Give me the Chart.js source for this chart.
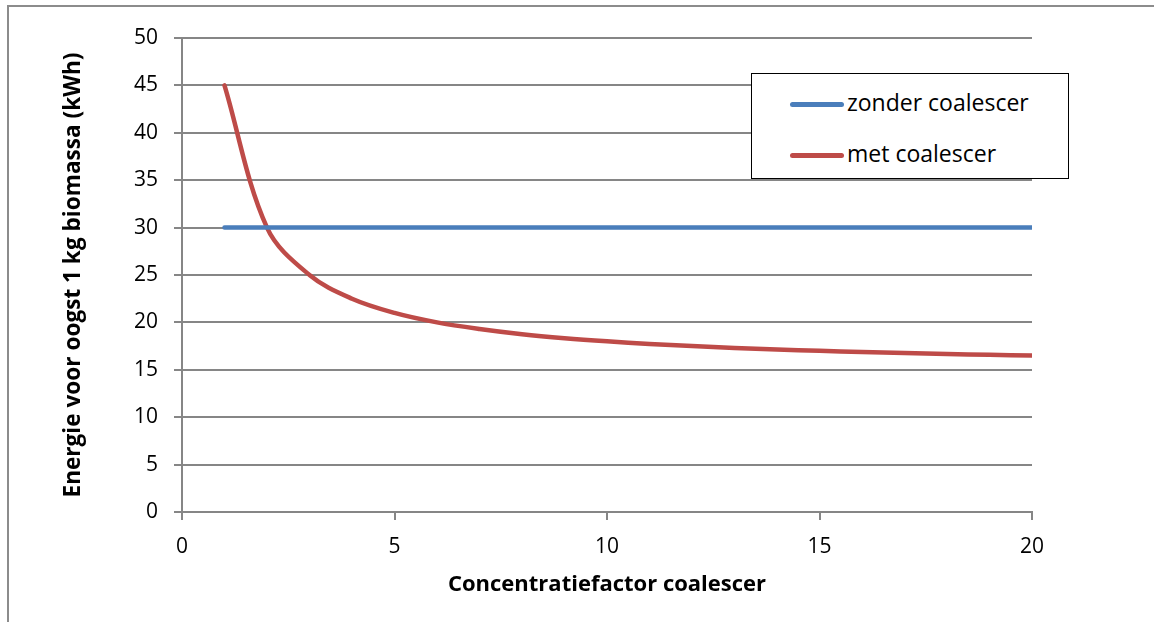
<!DOCTYPE html>
<html>
<head>
    <title>Energie voor oogst</title>
    <script src="https://cdn.jsdelivr.net/npm/chart.js"></script>
    <style>
        html, body { margin: 0; padding: 0; background: #fff; overflow: hidden; }
        #wrap { position: relative; width: 1154px; height: 622px; }
        #frame {
            position: absolute; left: 7px; top: 5px;
            width: 1170px; height: 640px;
            border: 2px solid #8c8c8c;
            pointer-events: none;
        }
        #legend {
            position: absolute; left: 751px; top: 73px;
            width: 316px; height: 104px;
            border: 1.5px solid #000; background: #fff;
            font-family: "Open Sans", sans-serif; font-size: 23px; color: #000;
        }
        .item { position: absolute; left: 38px; height: 32px; line-height: 32px; white-space: nowrap; }
        .item span.swatch {
            display: inline-block; width: 54px; height: 5px; border-radius: 3px;
            vertical-align: middle; margin-right: 3px;
        }
    </style>
</head>
<body>
<div id="wrap">
    <canvas id="chart" width="1154" height="622"></canvas>
    <div id="frame"></div>
    <div id="legend"></div>
</div>
<script>
// concentration factor (x) and energy per kg biomass (kWh)
const factors = [1, 2, 3, 4, 5, 6, 7, 8, 9, 10, 11, 12, 13, 14, 15, 16, 17, 18, 19, 20];
const zonder = [30, 30, 30, 30, 30, 30, 30, 30, 30, 30, 30, 30, 30, 30, 30, 30, 30, 30, 30, 30];
const met = [45, 30, 25, 22.5, 21, 20, 19.3, 18.75, 18.33, 18, 17.73, 17.5, 17.31, 17.14, 17, 16.88, 16.76, 16.67, 16.58, 16.5];
const xTicks = [0, 5, 10, 15, 20];
const seriesNames = ['zonder coalescer', 'met coalescer'];
const seriesColors = ['#4a7ebb', '#be4b48'];

const toPoints = vals => factors.map((f, i) => ({ x: f, y: vals[i] }));

const font = { family: "'Open Sans', sans-serif", size: 21 };
const titleFont = { family: "'Open Sans', sans-serif", size: 22, weight: 'bold' };
const yTitleFont = { family: "'Open Sans', sans-serif", size: 22.6, weight: 'bold' };
const gridColor = '#868686';

const chart = new Chart(document.getElementById('chart'), {
    type: 'line',
    data: {
        datasets: [
            {
                label: seriesNames[0],
                data: toPoints(zonder),
                borderColor: seriesColors[0],
                borderWidth: 4.5,
                borderCapStyle: 'round',
                pointRadius: 0,
                tension: 0
            },
            {
                label: seriesNames[1],
                data: toPoints(met),
                borderColor: seriesColors[1],
                borderWidth: 4.5,
                borderCapStyle: 'round',
                pointRadius: 0,
                tension: 0.35
            }
        ]
    },
    options: {
        responsive: false,
        animation: false,
        layout: { padding: { left: 0, top: 38, right: 122, bottom: 0 } },
        plugins: {
            legend: { display: false },
            tooltip: { enabled: false }
        },
        scales: {
            x: {
                type: 'linear',
                min: 0, max: 20,
                afterBuildTicks: s => { s.ticks = xTicks.map(v => ({ value: v })); },
                afterFit: s => { s.height = 110; },
                grid: { drawOnChartArea: false, drawTicks: true, tickLength: 8, color: gridColor, lineWidth: 2 },
                border: { color: gridColor, width: 2 },
                ticks: { font: font, color: '#000', padding: 14, maxRotation: 0 },
                title: {
                    display: true, text: 'Concentratiefactor coalescer',
                    font: titleFont, color: '#000', padding: { top: 0, bottom: 24 }
                }
            },
            y: {
                min: 0, max: 50,
                afterFit: s => { s.width = 182; },
                grid: { color: gridColor, lineWidth: 2, tickLength: 8 },
                border: { color: gridColor, width: 2 },
                ticks: { stepSize: 5, font: font, color: '#000', padding: 16 },
                title: {
                    display: true, text: 'Energie voor oogst 1 kg biomassa (kWh)',
                    font: yTitleFont, color: '#000', padding: { top: 60, bottom: 0 }
                }
            }
        }
    }
});

// legend box built from the datasets
const legend = document.getElementById('legend');
chart.data.datasets.forEach((ds, i) => {
    const row = document.createElement('div');
    row.className = 'item';
    row.style.top = (12 + i * 51) + 'px';
    row.innerHTML = '<span class="swatch" style="background:' + ds.borderColor + '"></span>' + ds.label;
    legend.appendChild(row);
});
</script>
</body>
</html>
